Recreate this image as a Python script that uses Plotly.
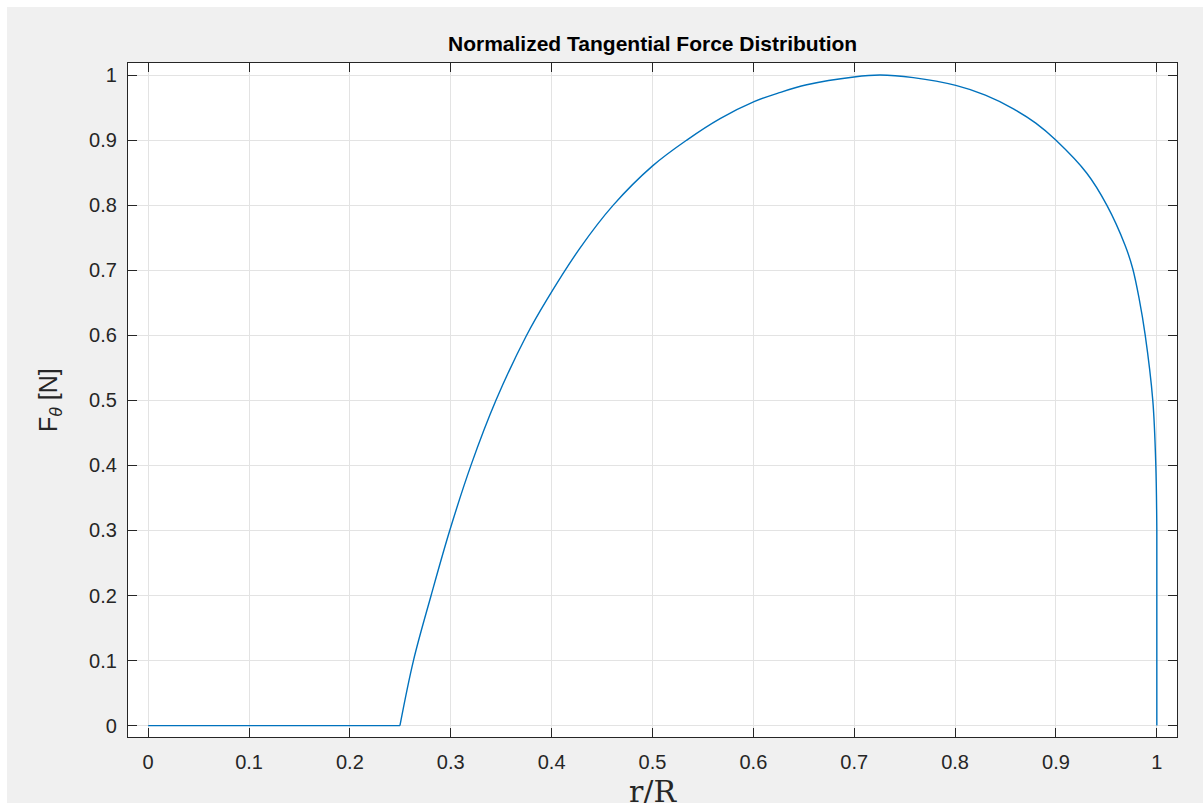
import plotly.graph_objects as go

# Flat (zero) part of the distribution
r_flat = [0.0, 0.2496]
f_flat = [0.0, 0.0]

# Rising / falling part
r_curve = [0.2496, 0.263, 0.2805, 0.2992, 0.320, 0.3448, 0.3752, 0.395, 0.4281,
           0.4611, 0.4998, 0.534, 0.567, 0.6007, 0.625, 0.6529, 0.6998, 0.7256,
           0.7586, 0.8007, 0.830, 0.8578, 0.880, 0.8998, 0.9306, 0.9504, 0.9686,
           0.976, 0.9825, 0.9884, 0.996, 0.999, 1.0, 1.0]
f_curve = [0.0, 0.10, 0.200, 0.301, 0.400, 0.500, 0.600, 0.654, 0.734,
           0.800, 0.860, 0.900, 0.933, 0.959, 0.9725, 0.985, 0.997, 1.0,
           0.996, 0.984, 0.969, 0.948, 0.926, 0.900, 0.849, 0.800, 0.738,
           0.703, 0.656, 0.601, 0.500, 0.400, 0.300, 0.0]

x_ticks = [0, 0.1, 0.2, 0.3, 0.4, 0.5, 0.6, 0.7, 0.8, 0.9, 1]
x_tick_labels = ["0", "0.1", "0.2", "0.3", "0.4", "0.5", "0.6", "0.7", "0.8", "0.9", "1"]
y_ticks = [0, 0.1, 0.2, 0.3, 0.4, 0.5, 0.6, 0.7, 0.8, 0.9, 1]
y_tick_labels = ["0", "0.1", "0.2", "0.3", "0.4", "0.5", "0.6", "0.7", "0.8", "0.9", "1"]

title_text = "<b>Normalized Tangential Force Distribution</b>"
x_label = "r/R"
y_label = "F<sub><i>θ</i></sub> [N]"

W, H = 1203, 803
L, R, T, B = 128, 1177, 63, 737
pw, ph = R - L, B - T

def px_x(px):
    return (px - L) / pw

def px_y(py):
    return (B - py) / ph

line_color = "#0072BD"
axis_color = "#262626"
grid_color = "#e3e3e3"
font_fam = "Liberation Sans, Arial, Helvetica, sans-serif"

fig = go.Figure()
fig.add_trace(go.Scatter(x=r_flat, y=f_flat, mode="lines",
                         line=dict(color=line_color, width=1.4), showlegend=False,
                         hoverinfo="skip"))
fig.add_trace(go.Scatter(x=r_curve, y=f_curve, mode="lines",
                         line=dict(color=line_color, width=1.4, shape="spline", smoothing=1.0),
                         showlegend=False, hoverinfo="skip"))

axis_common = dict(
    showline=True, linecolor=axis_color, linewidth=1.2, mirror="ticks",
    ticks="inside", ticklen=9, tickwidth=1.2, tickcolor=axis_color,
    showgrid=True, gridcolor=grid_color, gridwidth=1, zeroline=False,
    tickfont=dict(family=font_fam, size=20, color=axis_color),
)

fig.update_layout(
    width=W, height=H,
    margin=dict(l=L, r=W - R, t=T, b=H - B, pad=0),
    paper_bgcolor="#f0f0f0", plot_bgcolor="#ffffff",
    xaxis=dict(range=[-0.02, 1.02], tickvals=x_ticks, ticktext=x_tick_labels,
               ticklabelstandoff=7, **axis_common),
    yaxis=dict(range=[-0.0175, 1.0185], tickvals=y_ticks, ticktext=y_tick_labels,
               ticklabelstandoff=6, **axis_common),
    shapes=[
        dict(type="rect", xref="paper", yref="paper", x0=px_x(-20), x1=px_x(W + 20),
             y0=px_y(7), y1=px_y(-20), fillcolor="#ffffff", line=dict(width=0), layer="below"),
        dict(type="rect", xref="paper", yref="paper", x0=px_x(-20), x1=px_x(7),
             y0=px_y(H + 20), y1=px_y(-20), fillcolor="#ffffff", line=dict(width=0), layer="below"),
    ],
    annotations=[
        dict(text=title_text, xref="paper", yref="paper", x=0.5, y=px_y(44),
             xanchor="center", yanchor="middle", showarrow=False,
             font=dict(family=font_fam, size=21, color="#000000")),
        dict(text=y_label, xref="paper", yref="paper", x=px_x(50), y=0.5,
             xanchor="center", yanchor="middle", showarrow=False, textangle=-90,
             font=dict(family=font_fam, size=25, color=axis_color)),
        dict(text=x_label, xref="paper", yref="paper", x=0.5, y=px_y(772),
             xanchor="center", yanchor="top", showarrow=False,
             font=dict(family="DejaVu Serif, Liberation Serif, serif", size=30, color=axis_color)),
    ],
)

fig.write_html("out.html")
